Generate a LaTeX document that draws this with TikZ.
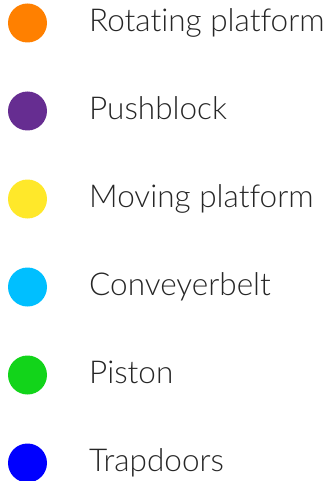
\documentclass[tikz,border=0pt]{standalone}
\usepackage{fontspec}
\setmainfont{Lato}[UprightFont=* Light, Ligatures={NoCommon,NoRare}]
\usepackage{tikz}

\definecolor{rotcol}{HTML}{FF8000}
\definecolor{pushcol}{HTML}{662D91}
\definecolor{movecol}{HTML}{FFE82A}
\definecolor{convcol}{HTML}{00BFFF}
\definecolor{pistcol}{HTML}{12D41A}
\definecolor{trapcol}{HTML}{0000FF}

\tikzset{
    dot/.style = {circle, inner sep=0pt, minimum size=39pt},
    entry/.style = {anchor=base west, inner sep=0pt, font=\fontsize{31.5}{36}\selectfont, text=black!85}
}

\begin{document}
\begin{tikzpicture}[x=1pt, y=-1pt]
        \useasboundingbox (0,0) rectangle (334,481);
        \begin{scope}
            \node [dot, fill = rotcol] (a) at (27.5,23) {};
            \node [dot, fill = pushcol] (b) at (27.5,111) {};
            \node [dot, fill = movecol] (c) at (27.5,199) {};
            \node [dot, fill = convcol] (d) at (27.5,287) {};
            \node [dot, fill = pistcol] (e) at (27.5,375) {};
            \node [dot, fill = trapcol] (f) at (27.5,463) {};
            \node [entry] (ta) at (89,31.5) {Rotating platform};
            \node [entry] (tb) at (89,119.5) {Pushblock};
            \node [entry] (tc) at (89,207.5) {Moving platform};
            \node [entry] (td) at (89,295.5) {Conveyerbelt};
            \node [entry] (te) at (89,383.5) {Piston};
            \node [entry] (tf) at (89,471.5) {Trapdoors};
        \end{scope}
\end{tikzpicture}
\end{document}
